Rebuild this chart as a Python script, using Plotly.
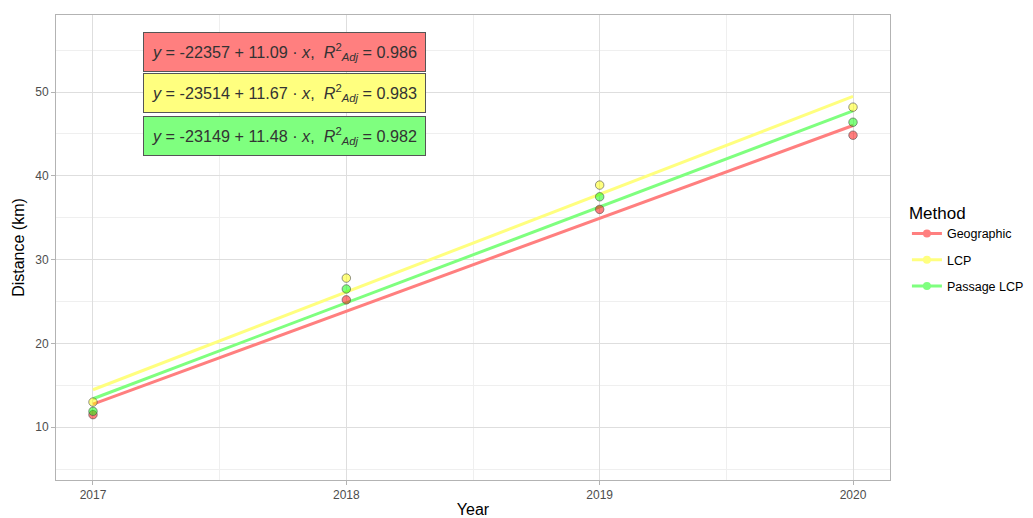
import numpy as np
import plotly.graph_objects as go

years = [2017, 2018, 2019, 2020]
methods = ["Geographic", "LCP", "Passage LCP"]
distance = {
    "Geographic": [11.5, 25.2, 36.0, 44.85],
    "LCP": [13.0, 27.8, 38.9, 48.2],
    "Passage LCP": [11.9, 26.5, 37.5, 46.4],
}
equations = {
    "Geographic": ("-22357", "11.09", "0.986"),
    "LCP": ("-23514", "11.67", "0.983"),
    "Passage LCP": ("-23149", "11.48", "0.982"),
}
label_y = {"Geographic": 54.8, "LCP": 49.9, "Passage LCP": 44.8}

line_colors = {"Geographic": "#FF7F7F", "LCP": "#FFFF7F", "Passage LCP": "#7FFF7F"}
point_fill = {"Geographic": "rgba(255,0,0,0.5)", "LCP": "rgba(255,255,0,0.5)",
              "Passage LCP": "rgba(0,255,0,0.5)"}

fig = go.Figure()

for m in methods:
    # regression line fitted to the points (like geom_smooth(method="lm"))
    slope, icpt = np.polyfit(years, distance[m], 1)
    xs = [years[0], years[-1]]
    fig.add_trace(go.Scatter(
        x=xs, y=[icpt + slope * x for x in xs], mode="lines",
        line=dict(color=line_colors[m], width=3), showlegend=False, hoverinfo="skip"))

for m in methods:
    fig.add_trace(go.Scatter(
        x=years, y=distance[m], mode="markers", showlegend=False,
        marker=dict(size=8.5, color=point_fill[m], line=dict(color="rgba(80,80,80,0.6)", width=1))))

# legend-only entries
for m in methods:
    fig.add_trace(go.Scatter(
        x=[None], y=[None], mode="lines+markers", name=m, legendgroup=m,
        line=dict(color=line_colors[m], width=3),
        marker=dict(size=8, color=line_colors[m])))

for m in methods:
    a, b, r2 = equations[m]
    txt = (f"<i>y</i> = {a} + {b} · <i>x</i>,  "
           f"<i>R</i><sup>2</sup><sub><i>Adj</i></sub> = {r2}")
    fig.add_annotation(
        x=2017.198, y=label_y[m], xref="x", yref="y", xanchor="left", yanchor="middle",
        text=txt, showarrow=False, align="left",
        font=dict(size=16.2, color="#333333", family="Liberation Sans"),
        bgcolor=line_colors[m], bordercolor="#555555", borderwidth=1, borderpad=8)

axis_common = dict(
    showline=True, linecolor="#B3B3B3", linewidth=1, mirror=True,
    gridcolor="#DEDEDE", gridwidth=1, zeroline=False, automargin=False,
    ticks="outside", ticklen=4, tickcolor="#B3B3B3",
    tickfont=dict(size=12, color="#4D4D4D"),
)

fig.update_xaxes(
    **axis_common, range=[2016.854, 2020.146], tickvals=years,
    ticktext=[str(y) for y in years],
    minor=dict(tickvals=[2017.5, 2018.5, 2019.5], showgrid=True, gridcolor="#EFEFEF", ticks=""),
    title=dict(text="Year", font=dict(size=16, color="black"), standoff=7))
fig.update_yaxes(
    **axis_common, range=[3.7, 59.2], tickvals=[10, 20, 30, 40, 50],
    minor=dict(tickvals=[5, 15, 25, 35, 45, 55], showgrid=True, gridcolor="#EFEFEF", ticks=""),
    title=dict(text="Distance (km)", font=dict(size=16, color="black"), standoff=6))

# page body adds an 8px margin, so the figure is 8px smaller than the window
fig.update_layout(
    width=1025, height=510,
    margin=dict(l=48, r=143, t=7, b=38),
    plot_bgcolor="white", paper_bgcolor="white",
    font=dict(family="Liberation Sans"),
    legend=dict(
        title=dict(text="Method", font=dict(size=17, color="black")),
        font=dict(size=12.5, color="black"),
        xref="container", yref="container",
        x=0.877, xanchor="left", y=0.528, yanchor="middle",
        bgcolor="rgba(0,0,0,0)", tracegroupgap=7, itemwidth=30),
)

fig.write_html("out.html")
